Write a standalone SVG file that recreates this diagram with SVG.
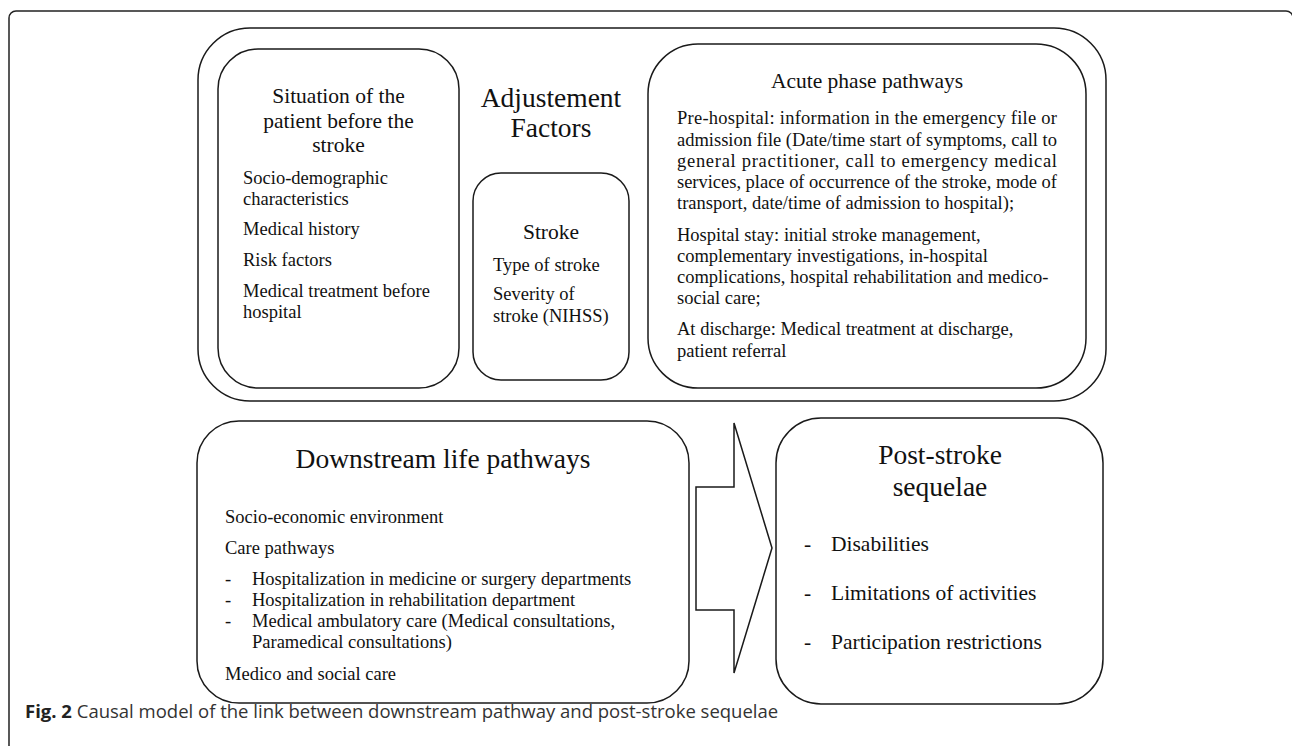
<svg xmlns="http://www.w3.org/2000/svg" width="1292" height="746" viewBox="0 0 1292 746">
<style>
.box{fill:#fff;stroke:#1a1a1a;stroke-width:1.5}
.t{font-family:"Liberation Serif","Times New Roman",serif;fill:#111}
.title{font-size:21.5px}
.big{font-size:27.5px}
.body{font-size:18.5px}
.c{text-anchor:middle}
.cap{font-family:"Open Sans","Liberation Sans",sans-serif;font-size:18.5px;fill:#333}
</style>
<rect x="9" y="11" width="1284" height="800" rx="7" fill="none" stroke="#222" stroke-width="1.5"/>
<g id="adjustment-factors">
<rect class="box" x="198" y="28" width="908" height="373" rx="52"/>
<text class="t big c" x="551" y="107">Adjustement</text>
<text class="t big c" x="551" y="137">Factors</text>
</g>
<g id="situation">
<rect class="box" x="218" y="49" width="241" height="339" rx="40"/>
<text class="t title c" x="338.5" y="103">Situation of the</text>
<text class="t title c" x="338.5" y="127.5">patient before the</text>
<text class="t title c" x="338.5" y="152">stroke</text>
<text class="t body" x="243" y="184">Socio-demographic</text>
<text class="t body" x="243" y="205">characteristics</text>
<text class="t body" x="243" y="235">Medical history</text>
<text class="t body" x="243" y="266">Risk factors</text>
<text class="t body" x="243" y="297">Medical treatment before</text>
<text class="t body" x="243" y="318">hospital</text>
</g>
<g id="stroke">
<rect class="box" x="473" y="173" width="156" height="207" rx="28"/>
<text class="t title c" x="551" y="239">Stroke</text>
<text class="t body" x="493" y="271">Type of stroke</text>
<text class="t body" x="493" y="300">Severity of</text>
<text class="t body" x="493" y="322">stroke (NIHSS)</text>
</g>
<g id="acute-phase">
<rect class="box" x="648" y="44" width="438" height="344" rx="50"/>
<text class="t title c" x="867" y="88">Acute phase pathways</text>
<text class="t body" x="677" y="124" textLength="380" lengthAdjust="spacing">Pre-hospital: information in the emergency file or</text>
<text class="t body" x="677" y="146" textLength="380" lengthAdjust="spacing">admission file (Date/time start of symptoms, call to</text>
<text class="t body" x="677" y="167" textLength="380" lengthAdjust="spacing">general practitioner, call to emergency medical</text>
<text class="t body" x="677" y="188" textLength="380" lengthAdjust="spacing">services, place of occurrence of the stroke, mode of</text>
<text class="t body" x="677" y="209">transport, date/time of admission to hospital);</text>
<text class="t body" x="677" y="241">Hospital stay: initial stroke management,</text>
<text class="t body" x="677" y="262">complementary investigations, in-hospital</text>
<text class="t body" x="677" y="283">complications, hospital rehabilitation and medico-</text>
<text class="t body" x="677" y="304">social care;</text>
<text class="t body" x="677" y="335">At discharge: Medical treatment at discharge,</text>
<text class="t body" x="677" y="357">patient referral</text>
</g>
<g id="downstream">
<rect class="box" x="197" y="421" width="492" height="282" rx="42"/>
<text class="t big c" x="443" y="468">Downstream life pathways</text>
<text class="t body" x="225" y="523">Socio-economic environment</text>
<text class="t body" x="225" y="554">Care pathways</text>
<text class="t body" x="225" y="585">-</text>
<text class="t body" x="252" y="585">Hospitalization in medicine or surgery departments</text>
<text class="t body" x="225" y="606">-</text>
<text class="t body" x="252" y="606">Hospitalization in rehabilitation department</text>
<text class="t body" x="225" y="627">-</text>
<text class="t body" x="252" y="627">Medical ambulatory care (Medical consultations,</text>
<text class="t body" x="252" y="648">Paramedical consultations)</text>
<text class="t body" x="225" y="680">Medico and social care</text>
</g>
<g id="connectors">
<polygon class="box" points="696,487 734,487 734,423 772,548 734,673 734,610 696,610"/>
</g>
<g id="post-stroke">
<rect class="box" x="776" y="418" width="327" height="286" rx="45"/>
<text class="t big c" x="940" y="464">Post-stroke</text>
<text class="t big c" x="940" y="496">sequelae</text>
<text class="t title" x="804" y="551">-</text>
<text class="t title" x="831" y="551">Disabilities</text>
<text class="t title" x="804" y="600">-</text>
<text class="t title" x="831" y="600">Limitations of activities</text>
<text class="t title" x="804" y="649">-</text>
<text class="t title" x="831" y="649">Participation restrictions</text>
</g>
<text class="cap" x="25" y="718"><tspan font-weight="bold" fill="#222">Fig. 2</tspan> Causal model of the link between downstream pathway and post-stroke sequelae</text>
</svg>
